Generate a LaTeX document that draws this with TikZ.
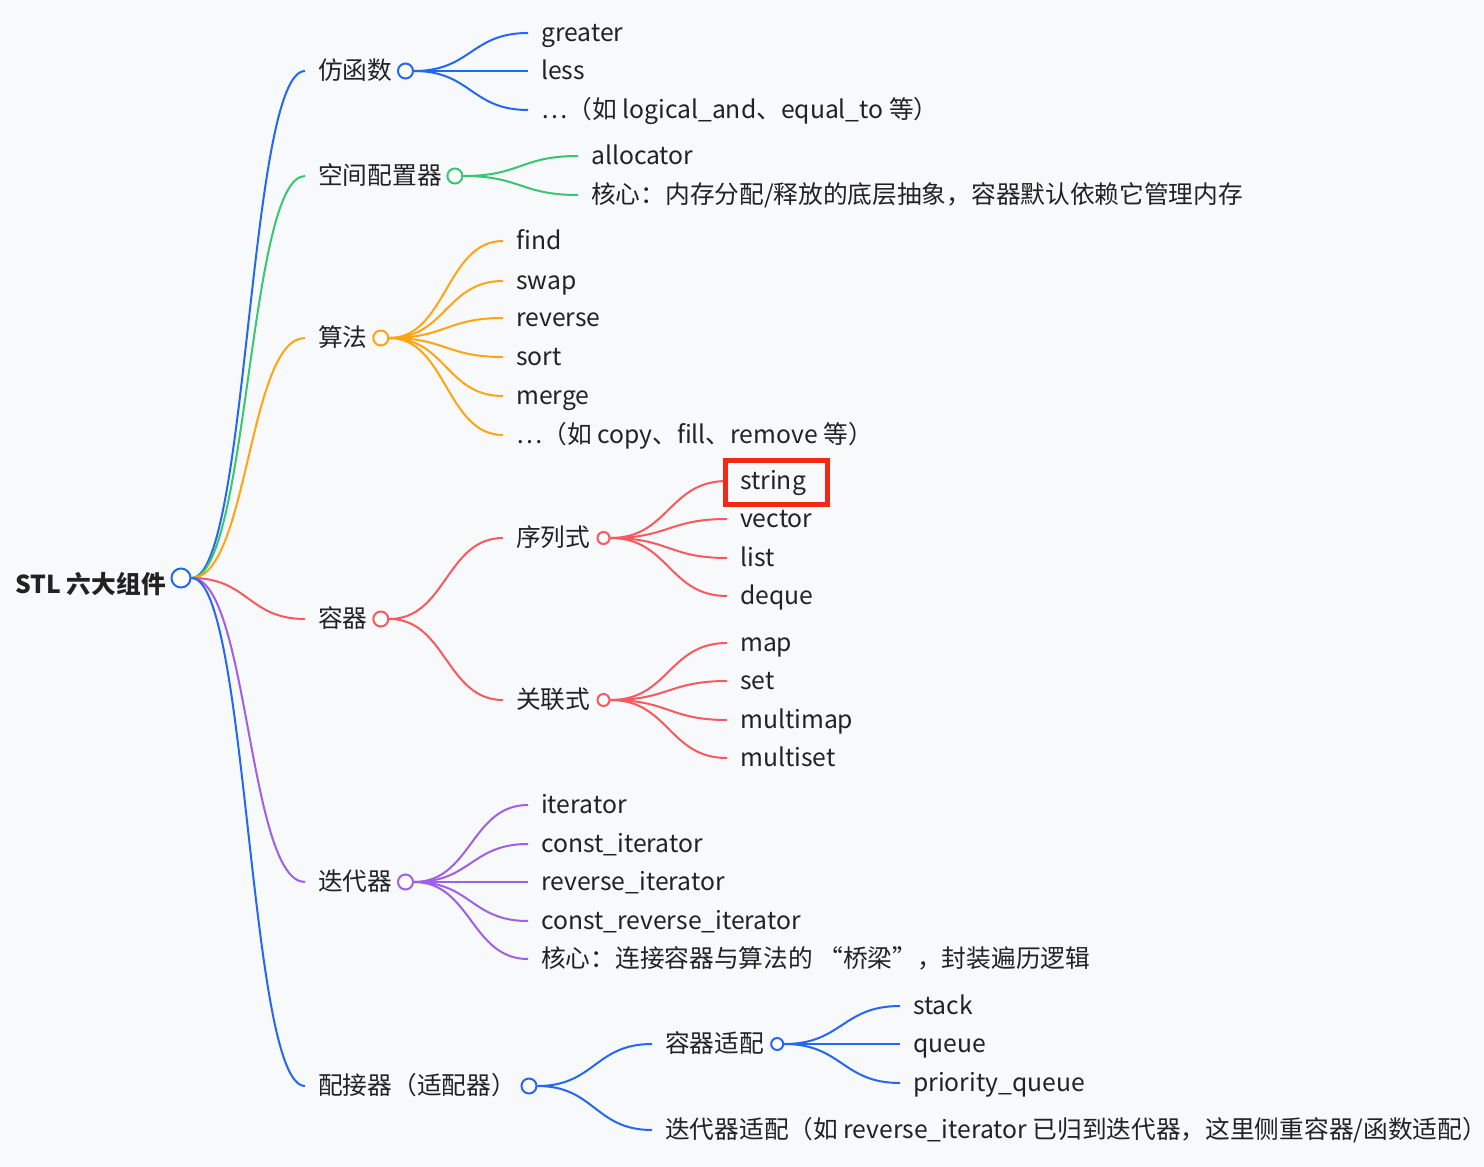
\documentclass[tikz,border=0pt]{standalone}
\usepackage{fontspec}
\setmainfont{Noto Sans CJK SC}
\usetikzlibrary{calc}
\definecolor{bgc}{RGB}{248,249,251}
\definecolor{txt}{RGB}{34,34,34}
\definecolor{cblue}{RGB}{36,104,242}
\definecolor{cgreen}{RGB}{58,198,112}
\definecolor{corange}{RGB}{255,164,18}
\definecolor{cred}{RGB}{247,90,94}
\definecolor{cpurple}{RGB}{160,96,230}
\definecolor{boxred}{RGB}{240,40,24}
\pgfdeclarelayer{back}
\pgfdeclarelayer{links}
\pgfsetlayers{back,links,main}
\tikzset{
  lbl/.style={anchor=west, inner xsep=13pt, inner ysep=0pt, text height=19pt, text depth=3pt,
    font=\fontsize{24.7}{28}\selectfont, text=txt},
  dot/.style={circle, draw=#1, fill=white, line width=2pt, minimum size=15pt, inner sep=0pt},
  sdot/.style={circle, draw=#1, fill=white, line width=2pt, minimum size=12pt, inner sep=0pt},
  lnk/.style={line width=2pt, draw=#1},
}
\newcommand\mmlink[3]{%
  \begin{pgfonlayer}{links}
  \draw[lnk=#1] let \p1=(#2), \p2=(#3) in (\p1) .. controls ({(\x1+\x2)/2},\y1) and ({(\x1+\x2)/2},\y2) .. (\p2);
  \end{pgfonlayer}}
\begin{document}
\begin{tikzpicture}[x=1pt,y=-1pt]
\begin{pgfonlayer}{back}
\fill[bgc] (0,0) rectangle (1484,1167);
\end{pgfonlayer}
\useasboundingbox (0,0) rectangle (1484,1167);

% root
\node[anchor=east, inner sep=0pt, font=\fontsize{24.7}{28}\selectfont\bfseries, text=txt] (root) at (166,584) {STL 六大组件};
\node[dot=cblue, minimum size=19pt] (rd) at (181,578) {};

% level 1
\node[lbl] (f1) at (305,71) {仿函数};
\node[lbl] (f2) at (305,176) {空间配置器};
\node[lbl] (f3) at (305,338) {算法};
\node[lbl] (f4) at (305,619) {容器};
\node[lbl] (f5) at (305,882) {迭代器};
\node[lbl] (f6) at (305,1086) {配接器（适配器）};
\node[dot=cblue] (d1) at (f1.east) {};
\node[dot=cgreen] (d2) at (f2.east) {};
\node[dot=corange] (d3) at (f3.east) {};
\node[dot=cred] (d4) at (f4.east) {};
\node[dot=cpurple] (d5) at (f5.east) {};
\node[dot=cblue] (d6) at (f6.east) {};

\mmlink{cblue}{rd.east}{f1.west}
\mmlink{cgreen}{rd.east}{f2.west}
\mmlink{corange}{rd.east}{f3.west}
\mmlink{cred}{rd.east}{f4.west}
\mmlink{cpurple}{rd.east}{f5.west}
\mmlink{cblue}{rd.east}{f6.west}

% functors
\node[lbl] (a1) at (528,33) {greater};
\node[lbl] (a2) at (528,71) {less};
\node[lbl] (a3) at (528,110) {…（如 logical\_and、equal\_to 等）};
\foreach \nd in {a1,a2,a3} {\mmlink{cblue}{d1.east}{\nd.west}}

% allocator
\node[lbl] (b1) at (578,156) {allocator};
\node[lbl] (b2) at (578,195) {核心：内存分配/释放的底层抽象，容器默认依赖它管理内存};
\foreach \nd in {b1,b2} {\mmlink{cgreen}{d2.east}{\nd.west}}

% algorithms
\node[lbl] (g1) at (503,241) {find};
\node[lbl] (g2) at (503,281) {swap};
\node[lbl] (g3) at (503,318) {reverse};
\node[lbl] (g4) at (503,357) {sort};
\node[lbl] (g5) at (503,396) {merge};
\node[lbl] (g6) at (503,435) {…（如 copy、fill、remove 等）};
\foreach \nd in {g1,g2,g3,g4,g5,g6} {\mmlink{corange}{d3.east}{\nd.west}}

% containers
\node[lbl] (s0) at (503,538) {序列式};
\node[lbl] (t0) at (503,700) {关联式};
\node[sdot=cred] (sd) at (s0.east) {};
\node[sdot=cred] (td) at (t0.east) {};
\mmlink{cred}{d4.east}{s0.west}
\mmlink{cred}{d4.east}{t0.west}

\node[lbl] (s1) at (727,481) {string};
\node[lbl] (s2) at (727,519) {vector};
\node[lbl] (s3) at (727,558) {list};
\node[lbl] (s4) at (727,596) {deque};
\foreach \nd in {s1,s2,s3,s4} {\mmlink{cred}{sd.east}{\nd.west}}
\node[draw=boxred, line width=4.5pt, minimum width=102pt, minimum height=44pt, inner sep=0pt] (hl) at (776.5,482.5) {};

\node[lbl] (t1) at (727,643) {map};
\node[lbl] (t2) at (727,681) {set};
\node[lbl] (t3) at (727,720) {multimap};
\node[lbl] (t4) at (727,758) {multiset};
\foreach \nd in {t1,t2,t3,t4} {\mmlink{cred}{td.east}{\nd.west}}

% iterators
\node[lbl] (i1) at (528,805) {iterator};
\node[lbl] (i2) at (528,844) {const\_iterator};
\node[lbl] (i3) at (528,882) {reverse\_iterator};
\node[lbl] (i4) at (528,921) {const\_reverse\_iterator};
\node[lbl] (i5) at (528,959) {核心：连接容器与算法的 “桥梁”，封装遍历逻辑};
\foreach \nd in {i1,i2,i3,i4,i5} {\mmlink{cpurple}{d5.east}{\nd.west}}

% adapters
\node[lbl] (p0) at (652,1044) {容器适配};
\node[sdot=cblue] (pd) at (p0.east) {};
\node[lbl] (q0) at (652,1130) {迭代器适配（如 reverse\_iterator 已归到迭代器，这里侧重容器/函数适配）};
\mmlink{cblue}{d6.east}{p0.west}
\mmlink{cblue}{d6.east}{q0.west}

\node[lbl] (p1) at (900,1006) {stack};
\node[lbl] (p2) at (900,1044) {queue};
\node[lbl] (p3) at (900,1083) {priority\_queue};
\foreach \nd in {p1,p2,p3} {\mmlink{cblue}{pd.east}{\nd.west}}
\end{tikzpicture}
\end{document}
